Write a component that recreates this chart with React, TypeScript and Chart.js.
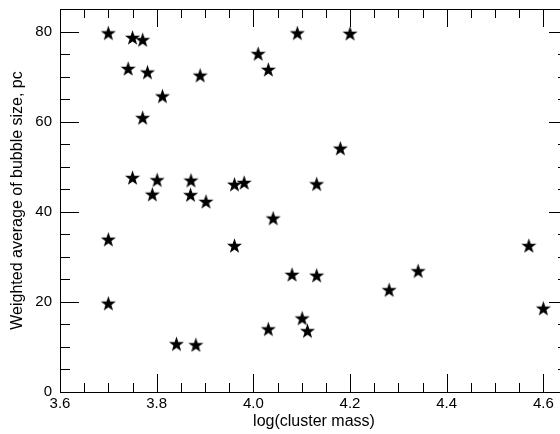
import React, { useEffect, useRef } from "react";
import { Chart, registerables } from "chart.js";

Chart.register(...registerables);

// Data
const logClusterMass = [
  3.700, 3.750, 3.771, 3.741, 3.781, 3.890, 3.812, 3.771, 3.750, 3.801,
  3.791, 3.871, 3.870, 3.902, 3.961, 3.981, 4.010, 4.031, 4.091, 4.200,
  4.180, 4.131, 4.041, 3.961, 3.700, 3.700, 3.841, 3.881, 4.031, 4.080,
  4.131, 4.101, 4.112, 4.281, 4.341, 4.570, 4.600,
];
const bubbleSize = [
  79.7, 78.7, 78.2, 71.8, 71.0, 70.3, 65.7, 60.9, 47.6, 47.1,
  43.9, 47.0, 43.8, 42.3, 46.1, 46.5, 75.1, 71.6, 79.7, 79.6,
  54.1, 46.2, 38.6, 32.5, 33.9, 19.7, 10.7, 10.5, 14.0, 26.1,
  25.9, 16.4, 13.6, 22.7, 26.9, 32.5, 18.6,
];

const xTickValues = [3.6, 3.8, 4.0, 4.2, 4.4, 4.6];
const xMinorTickValues = [3.65, 3.7, 3.75, 3.85, 3.9, 3.95, 4.05, 4.1, 4.15, 4.25, 4.3, 4.35, 4.45, 4.5, 4.55];
const yTickValues = [0, 20, 40, 60, 80];
const yMinorTickValues = [5, 10, 15, 25, 30, 35, 45, 50, 55, 65, 70, 75];

const X_MIN = 3.6;
const X_MAX = 4.651;
const Y_MIN = 0;
const Y_MAX = 85;

const FONT = "'Liberation Sans', Arial, Helvetica, sans-serif";

function makeStar(): HTMLCanvasElement {
  const s = 17;
  const c = document.createElement("canvas");
  c.width = s;
  c.height = s;
  const g = c.getContext("2d")!;
  const R = 7.9;
  const r = R * 0.4;
  const cx = s / 2;
  const cy = s / 2 + 0.74;
  g.beginPath();
  for (let i = 0; i < 10; i++) {
    const a = -Math.PI / 2 + (i * Math.PI) / 5;
    const rad = i % 2 === 0 ? R : r;
    const px = cx + rad * Math.cos(a);
    const py = cy + rad * Math.sin(a);
    if (i === 0) g.moveTo(px, py);
    else g.lineTo(px, py);
  }
  g.closePath();
  g.fillStyle = "#000";
  g.fill();
  return c;
}

const boxPlugin = {
  id: "idlBox",
  beforeDatasetsDraw(chart: any) {
    const { ctx, chartArea } = chart;
    const xs = chart.scales.x;
    const ys = chart.scales.y;
    const L = chartArea.left;
    const R = chartArea.right;
    const T = chartArea.top;
    const B = chartArea.bottom;
    ctx.save();
    ctx.strokeStyle = "#000";
    ctx.lineWidth = 1;
    ctx.beginPath();
    ctx.rect(Math.round(L) + 0.5, Math.round(T) + 0.5, Math.round(R - L), Math.round(B - T));
    ctx.stroke();

    const xMajor = 18, xMinor = 9, yMajor = 19, yMinor = 10;
    ctx.beginPath();
    const vt = (v: number, len: number) => {
      const px = Math.round(xs.getPixelForValue(v)) + 0.5;
      ctx.moveTo(px, B);
      ctx.lineTo(px, B - len);
      ctx.moveTo(px, T);
      ctx.lineTo(px, T + len);
    };
    const ht = (v: number, len: number) => {
      const py = Math.round(ys.getPixelForValue(v)) + 0.5;
      ctx.moveTo(L, py);
      ctx.lineTo(L + len, py);
      ctx.moveTo(R, py);
      ctx.lineTo(R - len, py);
    };
    xTickValues.forEach((v) => vt(v, xMajor));
    xMinorTickValues.forEach((v) => vt(v, xMinor));
    yTickValues.forEach((v) => ht(v, yMajor));
    yMinorTickValues.forEach((v) => ht(v, yMinor));
    ctx.stroke();
    ctx.restore();
  },
};

export default function App() {
  const ref = useRef<HTMLCanvasElement | null>(null);

  useEffect(() => {
    if (!ref.current) return;
    const star = makeStar();
    const chart = new Chart(ref.current, {
      type: "scatter",
      data: {
        datasets: [
          {
            data: logClusterMass.map((x, i) => ({ x, y: bubbleSize[i] })),
            pointStyle: star as any,
            pointRadius: 8,
            backgroundColor: "#000",
            borderColor: "#000",
          },
        ],
      },
      options: {
        animation: false,
        responsive: false,
        devicePixelRatio: 1,
        layout: { padding: { left: 0, right: 12, top: 6, bottom: 0 } },
        plugins: { legend: { display: false }, tooltip: { enabled: false } },
        scales: {
          x: {
            type: "linear",
            min: X_MIN,
            max: X_MAX,
            afterBuildTicks: (s: any) => {
              s.ticks = xTickValues.map((v) => ({ value: v }));
            },
            afterFit: (s: any) => {
              s.height = 42;
              s.paddingLeft = 0;
              s.paddingRight = 0;
            },
            grid: { display: false, drawTicks: false },
            border: { display: false },
            ticks: {
              padding: 3,
              color: "#000",
              autoSkip: false,
              maxRotation: 0,
              font: { family: FONT, size: 15 },
              callback: (v: any) => Number(v).toFixed(1),
            },
            title: {
              display: true,
              text: "log(cluster mass)",
              color: "#000",
              font: { family: FONT, size: 16 },
              padding: { top: 0, bottom: 3 },
            },
          },
          y: {
            type: "linear",
            min: Y_MIN,
            max: Y_MAX,
            afterBuildTicks: (s: any) => {
              s.ticks = yTickValues.map((v) => ({ value: v }));
            },
            afterFit: (s: any) => {
              s.width = 60;
              s.paddingTop = 0;
              s.paddingBottom = 0;
            },
            grid: { display: false, drawTicks: false },
            border: { display: false },
            ticks: {
              padding: 8,
              color: "#000",
              autoSkip: false,
              font: { family: FONT, size: 15 },
              callback: (v: any) => String(Math.round(Number(v))),
            },
            title: {
              display: true,
              text: "Weighted average of bubble size, pc",
              color: "#000",
              font: { family: FONT, size: 16 },
              padding: { top: 8, bottom: 0 },
            },
          },
        },
      },
      plugins: [boxPlugin],
    });
    return () => chart.destroy();
  }, []);

  return (
    <div
      style={{
        position: "fixed",
        left: 0,
        top: 0,
        width: 560,
        height: 434,
        overflow: "hidden",
        background: "#fff",
      }}
    >
      <canvas ref={ref} width={580} height={434} style={{ display: "block", width: 580, height: 434 }} />
    </div>
  );
}
